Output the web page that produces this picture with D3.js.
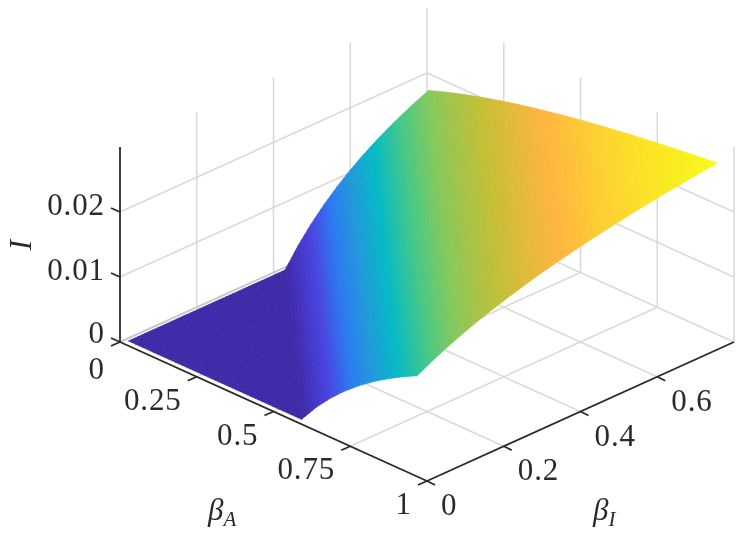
<!DOCTYPE html>
<html><head><meta charset="utf-8">
<script src="https://cdnjs.cloudflare.com/ajax/libs/d3/7.8.5/d3.min.js"></script>
<style>html,body{margin:0;background:#fff}svg{display:block;filter:blur(.5px)}text{font-family:"Liberation Serif",serif;fill:#2a2a2a}</style>
</head><body><svg id="c" width="747" height="540"></svg>
<script>
const betaA=[.01,.057,.104,.151,.198,.245,.292,.339,.386,.433,.48,.527,.574,.621,.668,.715,.762,.809,.856,.903,.95];
const betaI=[.014,.048,.082,.116,.15,.184,.218,.252,.286,.32,.354,.388,.422,.456,.49,.524,.558,.592,.626,.66,.694,.728,.762,.796];
const infected=[
[0,0,0,0,0,0,0,0,0,0,0,0,0,.00284,.00527,.00737,.00922,.01084,.01229,.01358,.01474,.0158,.01676,.01763],
[0,0,0,0,0,0,0,0,0,0,0,0,.00284,.00527,.00737,.00922,.01084,.01229,.01358,.01474,.0158,.01676,.01763,.01843],
[0,0,0,0,0,0,0,0,0,0,0,.00284,.00527,.00737,.00922,.01084,.01229,.01358,.01474,.0158,.01676,.01763,.01843,.01917],
[0,0,0,0,0,0,0,0,0,0,.00284,.00527,.00737,.00922,.01084,.01229,.01358,.01474,.0158,.01676,.01763,.01843,.01917,.01985],
[0,0,0,0,0,0,0,0,0,.00284,.00527,.00737,.00922,.01084,.01229,.01358,.01474,.0158,.01676,.01763,.01843,.01917,.01985,.02048],
[0,0,0,0,0,0,0,0,.00284,.00527,.00737,.00922,.01084,.01229,.01358,.01474,.0158,.01676,.01763,.01843,.01917,.01985,.02048,.02106],
[0,0,0,0,0,0,0,.00284,.00527,.00737,.00922,.01084,.01229,.01358,.01474,.0158,.01676,.01763,.01843,.01917,.01985,.02048,.02106,.02161],
[0,0,0,0,0,0,.00284,.00527,.00737,.00922,.01084,.01229,.01358,.01474,.0158,.01676,.01763,.01843,.01917,.01985,.02048,.02106,.02161,.02212],
[0,0,0,0,0,.00284,.00527,.00737,.00922,.01084,.01229,.01358,.01474,.0158,.01676,.01763,.01843,.01917,.01985,.02048,.02106,.02161,.02212,.02259],
[0,0,0,0,.00284,.00527,.00737,.00922,.01084,.01229,.01358,.01474,.0158,.01676,.01763,.01843,.01917,.01985,.02048,.02106,.02161,.02212,.02259,.02304],
[0,0,0,.00284,.00527,.00737,.00922,.01084,.01229,.01358,.01474,.0158,.01676,.01763,.01843,.01917,.01985,.02048,.02106,.02161,.02212,.02259,.02304,.02346],
[0,0,.00284,.00527,.00737,.00922,.01084,.01229,.01358,.01474,.0158,.01676,.01763,.01843,.01917,.01985,.02048,.02106,.02161,.02212,.02259,.02304,.02346,.02385],
[0,.00284,.00527,.00737,.00922,.01084,.01229,.01358,.01474,.0158,.01676,.01763,.01843,.01917,.01985,.02048,.02106,.02161,.02212,.02259,.02304,.02346,.02385,.02422],
[.00284,.00527,.00737,.00922,.01084,.01229,.01358,.01474,.0158,.01676,.01763,.01843,.01917,.01985,.02048,.02106,.02161,.02212,.02259,.02304,.02346,.02385,.02422,.02457],
[.00527,.00737,.00922,.01084,.01229,.01358,.01474,.0158,.01676,.01763,.01843,.01917,.01985,.02048,.02106,.02161,.02212,.02259,.02304,.02346,.02385,.02422,.02457,.02491],
[.00737,.00922,.01084,.01229,.01358,.01474,.0158,.01676,.01763,.01843,.01917,.01985,.02048,.02106,.02161,.02212,.02259,.02304,.02346,.02385,.02422,.02457,.02491,.02522],
[.00922,.01084,.01229,.01358,.01474,.0158,.01676,.01763,.01843,.01917,.01985,.02048,.02106,.02161,.02212,.02259,.02304,.02346,.02385,.02422,.02457,.02491,.02522,.02552],
[.01084,.01229,.01358,.01474,.0158,.01676,.01763,.01843,.01917,.01985,.02048,.02106,.02161,.02212,.02259,.02304,.02346,.02385,.02422,.02457,.02491,.02522,.02552,.0258],
[.01229,.01358,.01474,.0158,.01676,.01763,.01843,.01917,.01985,.02048,.02106,.02161,.02212,.02259,.02304,.02346,.02385,.02422,.02457,.02491,.02522,.02552,.0258,.02607],
[.01358,.01474,.0158,.01676,.01763,.01843,.01917,.01985,.02048,.02106,.02161,.02212,.02259,.02304,.02346,.02385,.02422,.02457,.02491,.02522,.02552,.0258,.02607,.02633],
[.01474,.0158,.01676,.01763,.01843,.01917,.01985,.02048,.02106,.02161,.02212,.02259,.02304,.02346,.02385,.02422,.02457,.02491,.02522,.02552,.0258,.02607,.02633,.02657]
];
const aTicks=[0,.25,.5,.75,1];
const aTickLabels=["0","0.25","0.5","0.75","1"];
const bTicks=[0,.2,.4,.6];
const bTickLabels=["0","0.2","0.4","0.6"];
const zTicks=[0,.01,.02];
const zTickLabels=["0","0.01","0.02"];
const colorZ=[0,.0012,.0052,.0083,.0107,.0133,.0158,.0176,.0202,.0226,.0242,.0266];
const colorHex=["#3c27a6","#3e2ab2","#4640e0","#2878f0","#1e96dc","#00b9c3","#46c882","#82c85a","#c3be32","#ffb43c","#fdd22d","#f8fa14"];

const ua=d3.scaleLinear([0,1],[0,1]);
const ub=d3.scaleLinear([0,.8],[0,1]);
const sx=d3.scaleLinear([0,1],[120,427]);
const sy=d3.scaleLinear([0,1],[342,481]);
const sz=d3.scaleLinear([0,.03],[0,195]);
const color=d3.scaleLinear().domain(colorZ).range(colorHex).clamp(true);
const P=(a,b,z=0)=>[sx(ua(a)+ub(b)),sy(ua(a)-ub(b))-sz(z)];
const svg=d3.select("#c");
const seg=(g,p,q,c,w)=>g.append("line").attr("x1",p[0]).attr("y1",p[1]).attr("x2",q[0]).attr("y2",q[1]).attr("stroke",c).attr("stroke-width",w);

// grid
const grid=svg.append("g");
const GC="#dadada",GW=1.6,bMax=.8,zMax=.03;
for(const a of aTicks){ if(a<1&&a>0) seg(grid,P(a,0),P(a,bMax),GC,GW); if(a>0) seg(grid,P(a,bMax),P(a,bMax,zMax),GC,GW);}
for(const b of bTicks){ if(b>0){seg(grid,P(0,b),P(1,b),GC,GW); seg(grid,P(0,b),P(0,b,zMax),GC,GW);} }
seg(grid,P(0,bMax),P(0,bMax,zMax),GC,GW);
for(const z of zTicks){ seg(grid,P(0,0,z),P(0,bMax,z),z?GC:"#c8c8c8",z?GW:2); seg(grid,P(0,bMax,z),P(1,bMax,z),GC,GW);}

// surface: each grid cell is split along its anti-diagonal, facets shaded between node values
const SUB=4, tris=[];
function addTri(A,B,C){
  const L=(u,v)=>{const w=SUB-u-v;return {a:(A.a*u+B.a*v+C.a*w)/SUB,b:(A.b*u+B.b*v+C.b*w)/SUB,z:(A.z*u+B.z*v+C.z*w)/SUB};};
  const push=(p,q,r)=>tris.push({pts:[p,q,r],z:(p.z+q.z+r.z)/3,d:ua((p.a+q.a+r.a)/3)-ub((p.b+q.b+r.b)/3)});
  for(let u=0;u<SUB;u++)for(let v=0;v<SUB-u;v++){
    push(L(u,v),L(u+1,v),L(u,v+1));
    if(u+v<SUB-1)push(L(u+1,v),L(u+1,v+1),L(u,v+1));
  }
}
betaA.slice(0,-1).forEach((a,i)=>betaI.slice(0,-1).forEach((b,j)=>{
  const N=(m,n)=>({a:betaA[m],b:betaI[n],z:infected[m][n]});
  addTri(N(i,j),N(i+1,j),N(i,j+1));
  addTri(N(i+1,j),N(i+1,j+1),N(i,j+1));
}));
tris.sort((p,q)=>p.d-q.d);
svg.append("g").selectAll("path").data(tris).join("path")
 .attr("d",t=>"M"+t.pts.map(p=>P(p.a,p.b,p.z).map(v=>v.toFixed(2)).join(",")).join("L")+"Z")
 .attr("fill",t=>color(t.z)).attr("stroke",t=>color(t.z)).attr("stroke-width",.6).attr("stroke-linejoin","round");

// axes
const ax=svg.append("g"),AC="#2a2a2a",AW=1.8,FS=31;
seg(ax,P(0,0),P(1,0),AC,AW); seg(ax,P(1,0),P(1,bMax),AC,AW); seg(ax,P(0,0),P(0,0,zMax),AC,AW);
const lab=(x,y,s,anchor)=>ax.append("text").attr("x",x).attr("y",y).attr("dy",".33em").attr("text-anchor",anchor).attr("font-size",FS).attr("letter-spacing",".9px").text(s);
aTicks.forEach((a,i)=>{const p=P(a,0);seg(ax,p,[p[0]-9,p[1]+4],AC,AW);lab(p[0]-15,p[1]+(a===0?27:23),aTickLabels[i],"end");});
bTicks.forEach((b,i)=>{const p=P(1,b);seg(ax,p,[p[0]+8,p[1]+4],AC,AW);lab(p[0]+14,p[1]+24,bTickLabels[i],"start");});
zTicks.forEach((z,i)=>{const p=P(0,0,z);seg(ax,p,[p[0]-9,p[1]-4],AC,AW);lab(105,p[1]-(z===0?9:7),zTickLabels[i],"end");});
const sub=(x,y,s,t)=>{const e=ax.append("text").attr("x",x).attr("y",y).attr("font-size",FS).attr("font-style","italic");
 e.append("tspan").text(s);e.append("tspan").attr("font-size",21).attr("dy",6).text(t);};
sub(208,520,"β","A"); sub(593,520,"β","I");
ax.append("text").attr("transform","translate(31,245) rotate(-90)").attr("text-anchor","middle").attr("font-size",FS).attr("font-style","italic").text("I");
</script></body></html>
